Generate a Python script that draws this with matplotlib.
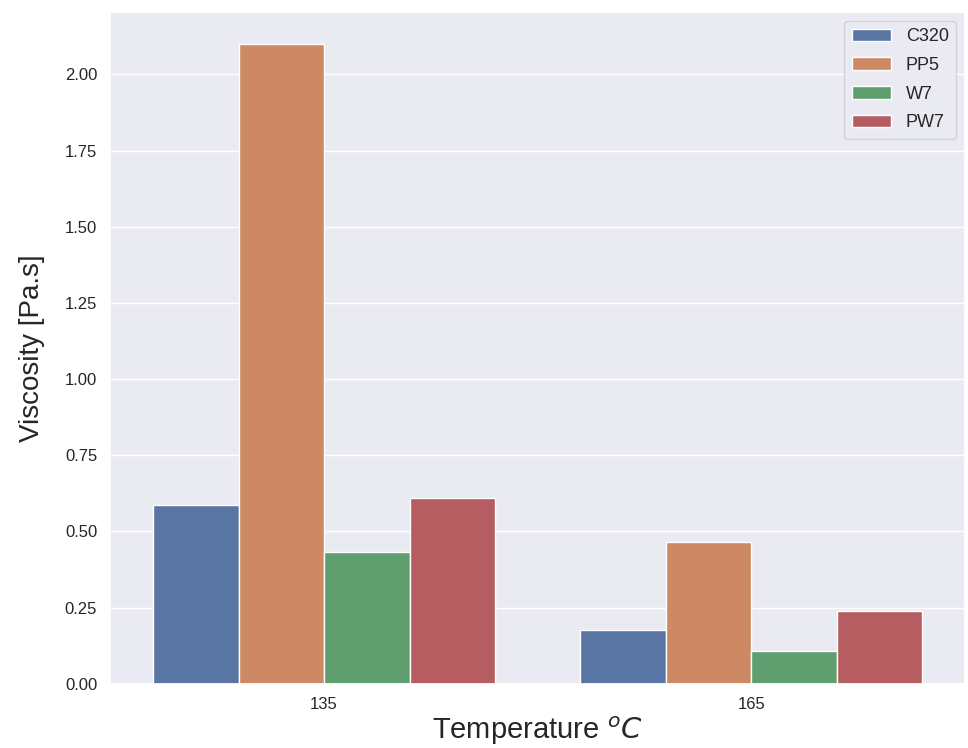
import matplotlib
matplotlib.use("Agg")
import matplotlib.pyplot as plt
import seaborn as sns
import pandas as pd

# viscosity readings per binder and temperature
temperatures = ["135", "165"]
binders = ["C320", "PP5", "W7", "PW7"]
visc_135 = [0.588, 2.10, 0.433, 0.611]
visc_165 = [0.177, 0.466, 0.108, 0.240]

rows = []
for b, v in zip(binders, visc_135):
    rows.append({"Temperature": temperatures[0], "Binder": b, "Viscosity": v})
for b, v in zip(binders, visc_165):
    rows.append({"Temperature": temperatures[1], "Binder": b, "Viscosity": v})
df = pd.DataFrame(rows)

sns.set_theme()
plt.rcParams['font.family'] = ['Liberation Sans', 'DejaVu Sans']

fig = plt.figure(figsize=(9.68, 7.48), dpi=100)
ax = fig.add_axes([0.114, 0.086, 0.883, 0.898])
sns.barplot(data=df, x="Temperature", y="Viscosity", hue="Binder", ax=ax)
ax.set_xlabel("Temperature $^oC$", fontsize=21, labelpad=2)
ax.set_ylabel("Viscosity [Pa.s]", fontsize=20, labelpad=14)
ax.tick_params(labelsize=12)
ax.legend(loc="upper right", fontsize=13, labelspacing=0.65,
          handlelength=2.2, borderaxespad=0.5)
fig.savefig("out.png", dpi=100)
